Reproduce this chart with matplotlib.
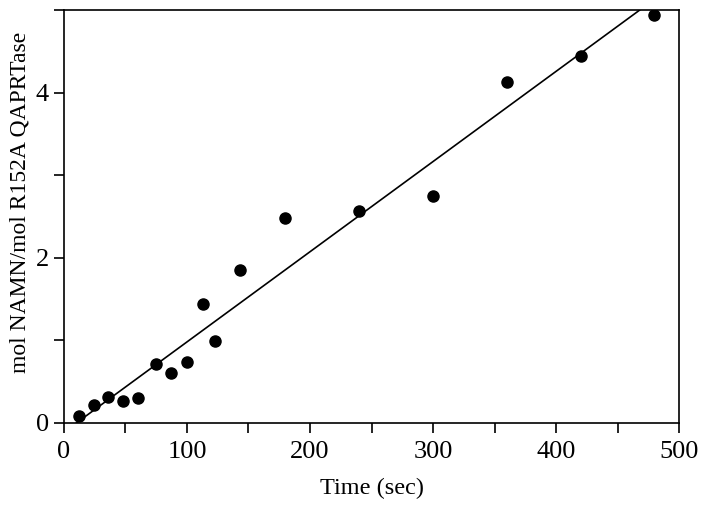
import matplotlib
matplotlib.use('Agg')
import matplotlib.pyplot as plt
import numpy as np
from matplotlib.ticker import MultipleLocator

# data
time_sec = [12, 24, 36, 48, 60, 75, 87, 100, 113, 123, 143, 180, 240, 300, 360, 420, 480]
namn = [0.09, 0.22, 0.31, 0.27, 0.30, 0.72, 0.61, 0.74, 1.44, 0.99, 1.85, 2.48, 2.57, 2.75, 4.13, 4.44, 4.94]

# fitted line
fit_slope = 0.01092
fit_intercept = -0.11
fit_x = [10, 480]

plt.rcParams['font.family'] = ['Liberation Serif', 'DejaVu Serif']

fig = plt.figure(figsize=(7.04, 5.07), dpi=100)
ax = fig.add_axes([0.0909, 0.1657, 0.8736, 0.8143])

ax.plot(time_sec, namn, 'o', color='black', markersize=8)
fx = np.array(fit_x, dtype=float)
ax.plot(fx, fit_slope * fx + fit_intercept, color='black', linewidth=1.2)

ax.set_xlim(0, 500)
ax.set_ylim(0, 5)
ax.xaxis.set_major_locator(MultipleLocator(100))
ax.xaxis.set_minor_locator(MultipleLocator(50))
ax.yaxis.set_major_locator(MultipleLocator(2))
ax.yaxis.set_minor_locator(MultipleLocator(1))
ax.tick_params(which='both', direction='out', width=1.2, labelsize=19, length=7)
ax.tick_params(axis='x', pad=6)
ax.tick_params(axis='y', pad=4)
for s in ax.spines.values():
    s.set_linewidth(1.2)

ax.set_xlabel('Time (sec)', fontsize=17.5, labelpad=11)
ax.set_ylabel('mol NAMN/mol R152A QAPRTase', fontsize=17)
ax.yaxis.set_label_coords(-0.055, 0.535)

fig.savefig('out.png', dpi=100)
